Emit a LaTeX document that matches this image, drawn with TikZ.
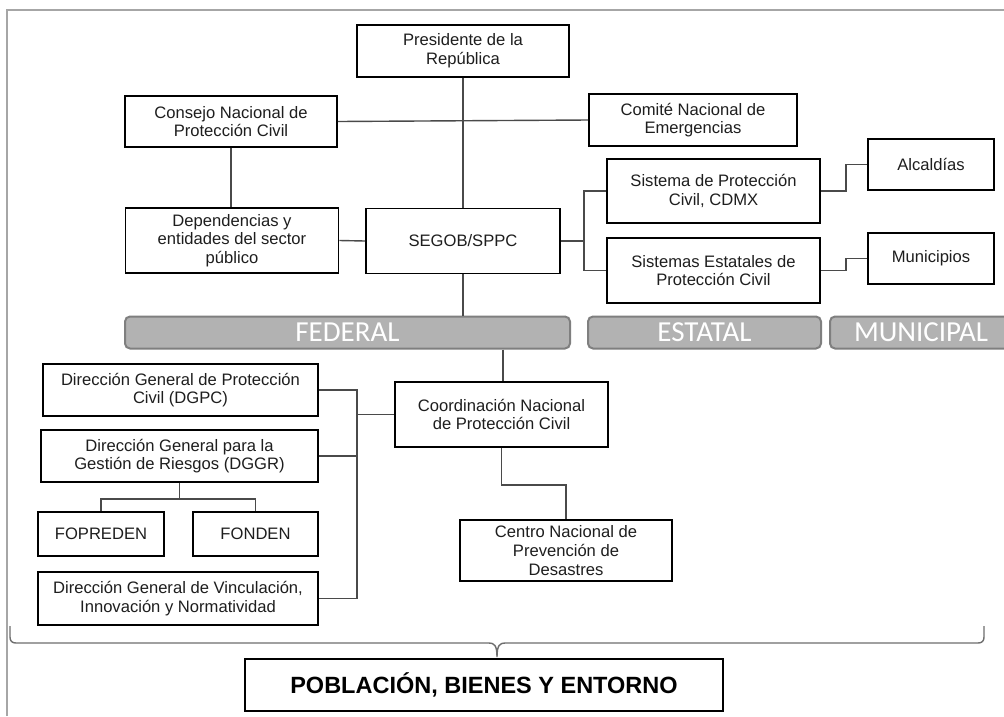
\documentclass[tikz,border=0pt]{standalone}
\usepackage{fontspec}
\setmainfont{Liberation Sans}
\newfontfamily\barfont{Carlito}
\definecolor{txt}{HTML}{1E1E1E}
\definecolor{lnk}{HTML}{4A4A4A}
\definecolor{bardraw}{HTML}{7F7F7F}
\definecolor{barfill}{HTML}{B2B2B2}
\definecolor{framec}{HTML}{A6A6A6}
\definecolor{bracec}{HTML}{6E6E6E}
\begin{document}
\begin{tikzpicture}[x=1pt,y=-1pt,
  box/.style={draw=black, line width=1.8pt, fill=white, text=txt, align=center, inner sep=0pt,
    font=\fontsize{16.6}{18.7}\selectfont},
  conn/.style={draw=lnk, line width=1.4pt},
  bar/.style={draw=bardraw, fill=barfill, line width=2pt, rounded corners=5pt, text=white,
    inner sep=0pt, minimum height=32pt, font=\barfont\fontsize{29}{30}\selectfont},
  bigbox/.style={draw=black, line width=1.8pt, fill=white, text=black, inner sep=0pt,
    font=\bfseries\fontsize{23.5}{25}\selectfont}]
\useasboundingbox (0,0) rectangle (1004,716);
\clip (0,0) rectangle (1004,716);
\fill[white] (0,0) rectangle (1004,716);
% frame
\draw[framec, line width=2pt] (7,716) -- (7,10) -- (1004,10);

% nodes
\node[box, minimum width=212pt, minimum height=52pt] (pres) at (463,51) {Presidente de la\\República};
\node[box, minimum width=212pt, minimum height=51pt] (consejo) at (231,121.5) {Consejo Nacional de\\Protección Civil};
\node[box, minimum width=208pt, minimum height=52pt] (comite) at (693,120) {Comité Nacional de\\Emergencias};
\node[box, minimum width=213pt, minimum height=65pt] (dep) at (232,240.5) {Dependencias y\\entidades del sector\\público};
\node[box, minimum width=194pt, minimum height=65pt] (segob) at (463,241) {SEGOB/SPPC};
\node[box, minimum width=213pt, minimum height=64pt] (cdmx) at (713.5,191) {Sistema de Protección\\Civil, CDMX};
\node[box, minimum width=213pt, minimum height=65pt] (estat) at (713.5,270.5) {Sistemas Estatales de\\Protección Civil};
\node[box, minimum width=126pt, minimum height=51pt] (alc) at (931,164.5) {Alcaldías};
\node[box, minimum width=126pt, minimum height=51pt] (mun) at (931,258.5) {Municipios};

\node[bar, minimum width=445pt] (fed) at (347.5,332.5) {FEDERAL};
\node[bar, minimum width=233pt] (est) at (704.5,332.5) {ESTATAL};
\node[bar, minimum width=182pt] (muni) at (921,332.5) {MUNICIPAL};

\node[box, minimum width=213pt, minimum height=65pt] (coord) at (501.5,414.5) {Coordinación Nacional\\de Protección Civil};
\node[box, minimum width=275pt, minimum height=52pt] (dgpc) at (180.5,390) {Dirección General de Protección\\Civil (DGPC)};
\node[box, minimum width=277pt, minimum height=52pt] (dggr) at (179.5,456) {Dirección General para la\\Gestión de Riesgos (DGGR)};
\node[box, minimum width=126pt, minimum height=44pt] (fopreden) at (101,534) {FOPREDEN};
\node[box, minimum width=125pt, minimum height=44pt] (fonden) at (255.5,534) {FONDEN};
\node[box, minimum width=280pt, minimum height=53pt] (dgvin) at (178,598.5) {Dirección General de Vinculación,\\Innovación y Normatividad};
\node[box, minimum width=212pt, minimum height=61pt] (centro) at (566,550.5) {Centro Nacional de\\Prevención de\\Desastres};
\node[bigbox, minimum width=478pt, minimum height=52pt] (pob) at (484,685) {POBLACIÓN, BIENES Y ENTORNO};

% connectors
\draw[conn] (consejo.east) -- (comite.west);
\draw[conn] (pres.south) -- (segob.north);
\draw[conn] (consejo.south) -- (consejo.south |- dep.north);
\draw[conn] (dep.east) -- (segob.west);
\coordinate (sx) at (584,0);
\draw[conn] (segob.east) -- (sx |- segob.east);
\draw[conn] (cdmx.west) -| (sx |- estat.west) -- (estat.west);
\draw[conn] (cdmx.east) -- ++(25,0) |- (alc.west);
\draw[conn] (estat.east) -- ++(25,0) |- (mun.west);
\draw[conn] (segob.south) -- (segob.south |- fed.north);
\coordinate (fx) at (503,0);
\draw[conn] (fx |- fed.south) -- (fx |- coord.north);
\coordinate (cx) at (357,0);
\draw[conn] (coord.west) -- (cx |- coord.west);
\draw[conn] (dgpc.east) -| (cx |- dgvin.east) -- (dgvin.east);
\draw[conn] (dggr.east) -- (cx |- dggr.east);
\draw[conn] (dggr.south) -- ++(0,16) coordinate (dj);
\draw[conn] (fopreden.north) |- (dj) -| (fonden.north);
\draw[conn] (coord.south) -- ++(0,37) -| (centro.north);

% brace
\draw[bracec, line width=1.4pt]
  (10,626) -- (10,637) .. controls (10,641) and (12,643) .. (16,643) -- (489,643)
  .. controls (494,643) and (497,645) .. (497,657)
  .. controls (497,645) and (500,643) .. (505,643) -- (978,643)
  .. controls (982,643) and (984,641) .. (984,637) -- (984,626);
\end{tikzpicture}
\end{document}
